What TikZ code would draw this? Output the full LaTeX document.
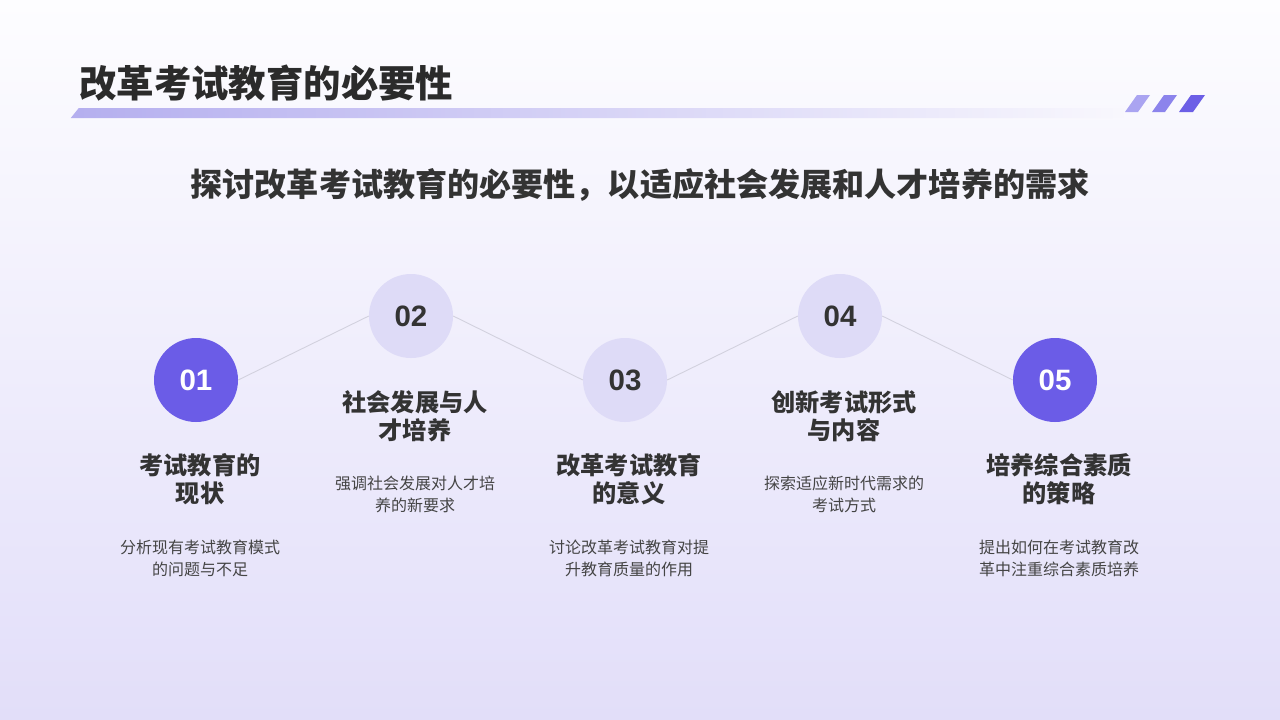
\documentclass[tikz,border=0pt]{standalone}
\usepackage{fontspec}
\usetikzlibrary{fadings}
\setmainfont{Noto Sans CJK SC}
\newfontfamily\numfont{Liberation Sans}
\definecolor{bgtop}{HTML}{FDFDFF}
\definecolor{bgbot}{HTML}{E2DEF9}
\definecolor{darkc}{HTML}{6B5CE7}
\definecolor{lightc}{HTML}{DEDBF7}
\definecolor{headc}{HTML}{333333}
\definecolor{descc}{HTML}{444444}
\definecolor{titlec}{HTML}{2B2B2B}
\definecolor{linec}{HTML}{D2D1DE}
\definecolor{barl}{HTML}{B5AFEF}
\definecolor{pa}{HTML}{AAA4F1}
\definecolor{pb}{HTML}{8C84EC}
\definecolor{pc}{HTML}{6C5FE6}
\begin{document}
\begin{tikzpicture}[x=1pt,y=-1pt,
  darkcirc/.style={circle,fill=darkc,minimum size=84pt,inner sep=0pt,text=white,font=\numfont\bfseries\fontsize{29.5}{29.5}\selectfont},
  lightcirc/.style={circle,fill=lightc,minimum size=84pt,inner sep=0pt,text=headc,font=\numfont\bfseries\fontsize{29.5}{29.5}\selectfont},
  head/.style={align=center,inner sep=0pt,text=headc,font=\bfseries\fontsize{24.2}{28}\selectfont},
  desc/.style={align=center,inner sep=0pt,text=descc,font=\fontsize{16}{22}\selectfont},
  conn/.style={draw=linec,line width=0.9pt}]
\useasboundingbox (0,0) rectangle (1280,720);
\fill[top color=bgtop,bottom color=bgbot] (0,0) rectangle (1280,720);
% title
\node[anchor=west,inner sep=0pt,text=titlec,font=\bfseries\fontsize{37.4}{37.4}\selectfont] (title) at (79,83) {改革考试教育的必要性};
\fill[barl,path fading=east] (71,118) -- (79,108) -- (1125,108) -- (1125,118) -- cycle;
\fill[pa] (1125,112) -- (1137,95) -- (1150,95) -- (1138,112) -- cycle;
\fill[pb] (1152,112) -- (1164,95) -- (1177,95) -- (1165,112) -- cycle;
\fill[pc] (1179,112) -- (1191,95) -- (1205,95) -- (1193,112) -- cycle;
% subtitle
\node[inner sep=0pt,text=headc,font=\bfseries\fontsize{32.1}{32}\selectfont] (sub) at (640,185) {探讨改革考试教育的必要性，以适应社会发展和人才培养的需求};
% circles
\node[darkcirc] (c1) at (196,380) {01};
\node[lightcirc] (c2) at (411,316) {02};
\node[lightcirc] (c3) at (625,380) {03};
\node[lightcirc] (c4) at (840,316) {04};
\node[darkcirc] (c5) at (1055,380) {05};
\draw[conn] (c1.east) -- (c2.west);
\draw[conn] (c2.east) -- (c3.west);
\draw[conn] (c3.east) -- (c4.west);
\draw[conn] (c4.east) -- (c5.west);
% texts
\node[head] (h1) at (200,479) {考试教育的\\现状};
\node[desc] (d1) at (200,558) {分析现有考试教育模式\\的问题与不足};
\node[head] (h2) at (415,416) {社会发展与人\\才培养};
\node[desc] (d2) at (415,494) {强调社会发展对人才培\\养的新要求};
\node[head] (h3) at (629,479) {改革考试教育\\的意义};
\node[desc] (d3) at (629,558) {讨论改革考试教育对提\\升教育质量的作用};
\node[head] (h4) at (844,416) {创新考试形式\\与内容};
\node[desc] (d4) at (844,494) {探索适应新时代需求的\\考试方式};
\node[head] (h5) at (1059,479) {培养综合素质\\的策略};
\node[desc] (d5) at (1059,558) {提出如何在考试教育改\\革中注重综合素质培养};
\end{tikzpicture}
\end{document}
